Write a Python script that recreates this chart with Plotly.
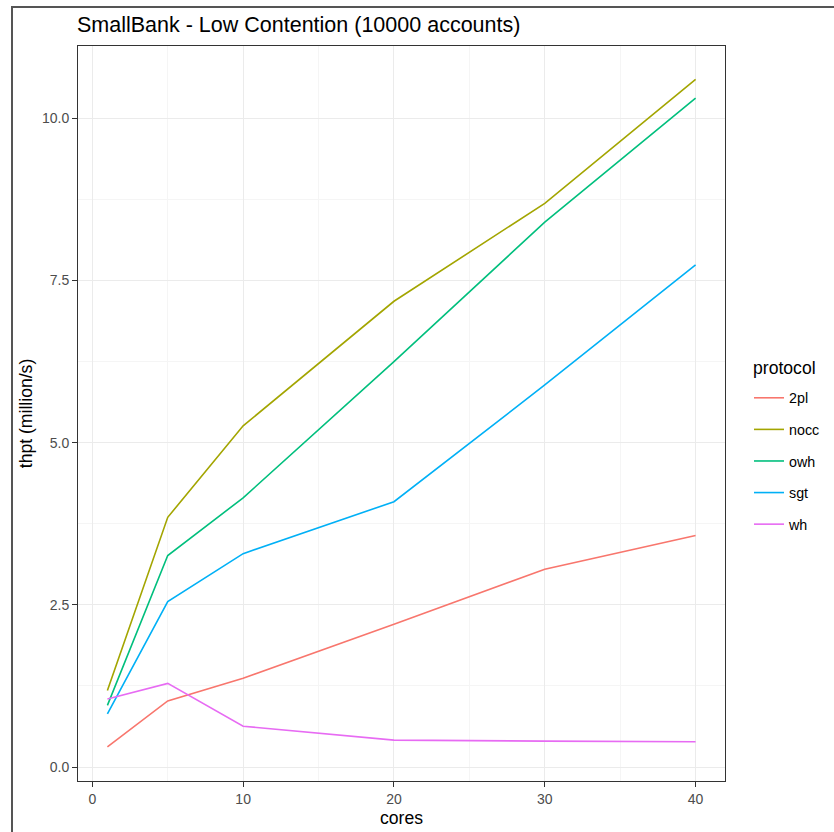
import plotly.graph_objects as go

cores = [1, 5, 10, 20, 30, 40]
protocols = ["2pl", "nocc", "owh", "sgt", "wh"]
thpt_2pl = [0.31, 1.02, 1.37, 2.2, 3.05, 3.57]
thpt_nocc = [1.18, 3.85, 5.26, 7.18, 8.69, 10.6]
thpt_owh = [0.95, 3.26, 4.15, 6.25, 8.4, 10.31]
thpt_sgt = [0.82, 2.55, 3.29, 4.09, 5.89, 7.74]
thpt_wh = [1.05, 1.29, 0.63, 0.415, 0.40, 0.39]
colors = ["#F8766D", "#A3A500", "#00BF7D", "#00B0F6", "#E76BF3"]
series = [thpt_2pl, thpt_nocc, thpt_owh, thpt_sgt, thpt_wh]

FONT = "Liberation Sans, Arial, Helvetica, sans-serif"
W, H = 834, 832
L, R, T, B = 78, 725, 46, 781

fig = go.Figure()
for name, ys, c in zip(protocols, series, colors):
    fig.add_trace(go.Scatter(x=cores, y=ys, mode="lines", name=name,
                             legendgroup=name,
                             line=dict(color=c, width=1.6)))

def px(p):
    return (p - L) / (R - L)

def py(q):
    return (B - q) / (B - T)

fig.update_layout(
    width=W, height=H,
    margin=dict(l=L, r=W - R, t=T, b=H - B, pad=0, autoexpand=False),
    paper_bgcolor="white", plot_bgcolor="white",
    font=dict(family=FONT, color="#000000"),
    title=dict(text="SmallBank - Low Contention (10000 accounts)",
               x=77 / W, xref="container", xanchor="left",
               y=1 - 24 / H, yref="container", yanchor="middle",
               font=dict(size=21.5, color="#000000")),
    showlegend=True,
    legend=dict(font=dict(size=14.3), x=px(749), xanchor="left",
                y=py(382), yanchor="top", tracegroupgap=10,
                traceorder="grouped", itemwidth=30,
                bgcolor="rgba(0,0,0,0)"),
    xaxis=dict(range=[-0.95, 41.95], tickvals=[0, 10, 20, 30, 40],
               showgrid=True, gridcolor="#EBEBEB", gridwidth=1.2,
               minor=dict(dtick=5, tick0=0, showgrid=True, gridcolor="#F5F5F5",
                          gridwidth=0.8, ticks=""),
               ticks="outside", ticklen=5, tickcolor="#333333", tickwidth=1,
               tickfont=dict(size=14, color="#4D4D4D"),
               zeroline=False, showline=True, linecolor="#333333", linewidth=1,
               mirror=True,
               title=dict(text="cores", font=dict(size=17.6), standoff=5)),
    yaxis=dict(range=[-0.215, 11.115], tickvals=[0, 2.5, 5, 7.5, 10],
               tickformat=".1f",
               showgrid=True, gridcolor="#EBEBEB", gridwidth=1.2,
               minor=dict(dtick=1.25, tick0=0, showgrid=True, gridcolor="#F5F5F5",
                          gridwidth=0.8, ticks=""),
               ticks="outside", ticklen=5, tickcolor="#333333", tickwidth=1,
               tickfont=dict(size=14, color="#4D4D4D"),
               zeroline=False, showline=True, linecolor="#333333", linewidth=1,
               mirror=True,
               title=dict(text="thpt (million/s)", font=dict(size=17.6), standoff=4)),
)

# legend title
fig.add_annotation(xref="paper", yref="paper", x=px(751), y=py(368),
                   text="protocol", showarrow=False, xanchor="left",
                   yanchor="middle", font=dict(size=17.6, color="#000000"))

# outer frame of the image (top and left edges)
fig.add_shape(type="line", xref="paper", yref="paper",
              x0=px(11), x1=px(834), y0=py(7), y1=py(7),
              line=dict(color="#555555", width=2))
fig.add_shape(type="line", xref="paper", yref="paper",
              x0=px(12), x1=px(12), y0=py(6), y1=py(832),
              line=dict(color="#555555", width=2))

fig.write_html("out.html",
               config={"displayModeBar": False, "responsive": False},
               post_script="document.body.style.margin='0';document.body.style.padding='0';window.scrollTo(0,0);")
